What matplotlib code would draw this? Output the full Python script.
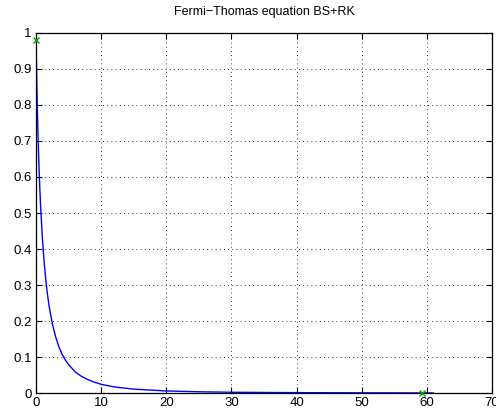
import matplotlib
matplotlib.use("Agg")
import matplotlib.pyplot as plt

plt.rcParams["font.family"] = ["Liberation Sans", "DejaVu Sans"]
plt.rcParams["axes.unicode_minus"] = True

# curve
x = [0.0, 0.05, 0.1, 0.2, 0.3, 0.4, 0.5, 0.7, 1.0, 1.25, 1.5, 1.75, 2.0, 2.5, 3.0,
     3.5, 4.0, 4.5, 5.0, 6.0, 7.0, 8.0, 9.0, 10.0, 12.0, 15.0, 20.0, 25.0, 30.0,
     40.0, 50.0, 61.0]
y = [0.98, 0.93, 0.882, 0.793, 0.721, 0.660, 0.607, 0.52, 0.424, 0.363, 0.315,
     0.275, 0.243, 0.193, 0.157, 0.129, 0.108, 0.092, 0.079, 0.059, 0.046, 0.037,
     0.030, 0.0243, 0.017, 0.0108, 0.0058, 0.0035, 0.0022, 0.0011, 0.0006, 0.0003]

# end points marked in green
mark_x = [0.0, 59.2]
mark_y = [0.98, 0.0]

fig = plt.figure(figsize=(4.96, 4.12), dpi=100)
ax = fig.add_axes([0.0726, 0.046, 0.9194, 0.874])

ax.plot(x, y, color="blue", linewidth=1.0)
ax.plot(mark_x, mark_y, "x", color="#00a000", markersize=5, markeredgewidth=1.0,
        clip_on=False, zorder=5)

ax.set_xlim(0, 70)
ax.set_ylim(0, 1)
ax.set_xticks(range(0, 71, 10))
ax.set_yticks([i / 10 for i in range(11)])
ax.set_yticklabels(["0", "0.1", "0.2", "0.3", "0.4", "0.5", "0.6", "0.7", "0.8", "0.9", "1"])
ax.grid(True, color="black", linestyle=(0, (1, 4)), linewidth=0.6)
ax.tick_params(direction="in", labelsize=9.5, length=4, pad=3, top=True, right=True)
for s in ax.spines.values():
    s.set_linewidth(0.9)

ax.set_title("Fermi\u2212Thomas equation BS+RK", fontsize=9, pad=13)

fig.savefig("out.png", dpi=100)
